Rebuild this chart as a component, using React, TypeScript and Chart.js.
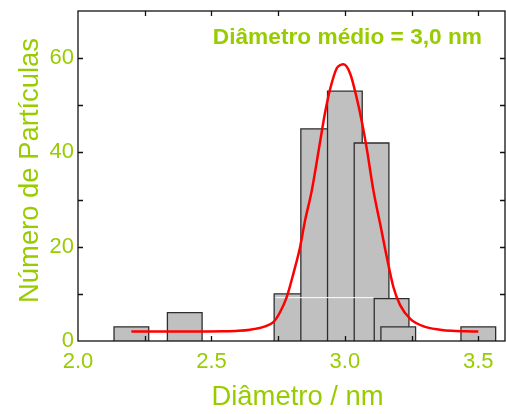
import { useEffect, useRef } from 'react';
import { Chart, registerables } from 'chart.js';

Chart.register(...registerables);

// Histogram bins (diameter in nm) and counts
const binCenters = [2.2, 2.4, 2.8, 2.9, 3.0, 3.1, 3.175, 3.2, 3.5];
const binCounts = [3, 6, 10, 45, 53, 42, 9, 3, 3];
const binWidth = 0.13;

// Fitted curve
const fitX = [2.2, 2.4, 2.55, 2.6, 2.645, 2.695, 2.732, 2.757, 2.782, 2.807, 2.832, 2.851, 2.876, 2.907, 2.926, 2.945, 2.97, 2.985, 2.995, 3.02, 3.045, 3.064, 3.082, 3.107, 3.132, 3.157, 3.182, 3.207, 3.245, 3.295, 3.357, 3.4, 3.45, 3.5];
const fitY = [2.0, 2.0, 2.05, 2.15, 2.4, 3.0, 4.0, 6.1, 9.3, 14.3, 19.9, 25.6, 31.9, 42.2, 48.5, 53.5, 57.9, 58.6, 58.7, 56.7, 51.4, 46.4, 40.8, 31.9, 24.9, 17.8, 11.4, 7.6, 4.7, 3.1, 2.4, 2.15, 2.05, 2.0];

// Thin white artefact line across the central bars
const whiteLineX = [2.74, 3.107];
const whiteLineY = [9.2, 9.2];

const xTickValues = [2.0, 2.25, 2.5, 2.75, 3.0, 3.25, 3.5];
const xLabelValues = [2.0, 2.5, 3.0, 3.5];
const yTickValues = [0, 10, 20, 30, 40, 50, 60, 70];
const yLabelValues = [0, 20, 40, 60];

const annotationText = 'Diâmetro médio = 3,0 nm';
const xTitle = 'Diâmetro / nm';
const yTitle = 'Número de Partículas';

const GREEN = '#99cc00';
const FONT = '"Liberation Sans", Arial, sans-serif';

const framePlugin = {
  id: 'frameTicks',
  afterDatasetsDraw(chart: any) {
    const { ctx, chartArea: a, scales } = chart;
    const x = scales.x;
    const y = scales.y;
    ctx.save();
    ctx.strokeStyle = '#111';
    ctx.lineWidth = 1.3;
    ctx.strokeRect(a.left, a.top, a.right - a.left, a.bottom - a.top);
    const L = 5;
    ctx.beginPath();
    x.ticks.forEach((t: any) => {
      const v = t.value;
      if (v <= x.min + 1e-9 || v >= x.max - 1e-9) return;
      const px = Math.round(x.getPixelForValue(v)) + 0.5;
      ctx.moveTo(px, a.bottom);
      ctx.lineTo(px, a.bottom - L);
      ctx.moveTo(px, a.top);
      ctx.lineTo(px, a.top + L);
    });
    y.ticks.forEach((t: any) => {
      const v = t.value;
      if (v <= y.min + 1e-9 || v >= y.max - 1e-9) return;
      const py = Math.round(y.getPixelForValue(v)) + 0.5;
      ctx.moveTo(a.left, py);
      ctx.lineTo(a.left + L, py);
      ctx.moveTo(a.right, py);
      ctx.lineTo(a.right - L, py);
    });
    ctx.stroke();
    ctx.restore();
  },
  afterDraw(chart: any) {
    const { ctx, chartArea: a } = chart;
    ctx.save();
    // annotation inside the plot
    ctx.font = `bold 22.7px ${FONT}`;
    ctx.fillStyle = GREEN;
    ctx.textAlign = 'right';
    ctx.textBaseline = 'alphabetic';
    ctx.fillText(annotationText, a.right - 23, a.top + 33.3);

    // axis titles
    ctx.font = `27.4px ${FONT}`;
    ctx.textAlign = 'center';
    ctx.fillText(xTitle, (a.left + a.right) / 2 + 6, chart.height - 9);

    ctx.translate(37.5, (a.top + a.bottom) / 2 - 5.5);
    ctx.rotate(-Math.PI / 2);
    ctx.fillText(yTitle, 0, 0);
    ctx.restore();
  },
};

const zeroPad = (s: any) => {
  s.paddingTop = 0;
  s.paddingBottom = 0;
  s.paddingLeft = 0;
  s.paddingRight = 0;
};

export default function App() {
  const ref = useRef<HTMLCanvasElement | null>(null);

  useEffect(() => {
    if (!ref.current) return;
    const barSets = binCenters.map((c, i) => {
      const h = binCounts[i];
      const x0 = c - binWidth / 2;
      const x1 = c + binWidth / 2;
      return {
        type: 'line' as const,
        data: [
          { x: x0, y: 0 },
          { x: x0, y: h },
          { x: x1, y: h },
          { x: x1, y: 0 },
        ],
        borderColor: '#2e2e2e',
        borderWidth: 1.3,
        backgroundColor: '#c0c0c0',
        fill: 'origin',
        pointRadius: 0,
        tension: 0,
        order: 100 - i,
      };
    });

    const chart = new Chart(ref.current, {
      type: 'line',
      data: {
        datasets: [
          ...barSets,
          {
            type: 'line',
            data: whiteLineX.map((x, i) => ({ x, y: whiteLineY[i] })),
            borderColor: '#ffffff',
            borderWidth: 1,
            pointRadius: 0,
            fill: false,
            order: 1,
          },
          {
            type: 'line',
            data: fitX.map((x, i) => ({ x, y: fitY[i] })),
            borderColor: '#ff0000',
            borderWidth: 2.5,
            pointRadius: 0,
            fill: false,
            cubicInterpolationMode: 'monotone',
            order: 0,
          },
        ] as any,
      },
      options: {
        animation: false,
        responsive: false,
        events: [],
        layout: { padding: { top: 11, right: 1, left: 0, bottom: 0 } },
        plugins: {
          legend: { display: false },
          tooltip: { enabled: false },
        },
        scales: {
          x: {
            type: 'linear',
            min: 2.0,
            max: 3.6,
            afterBuildTicks: (s: any) => {
              s.ticks = xTickValues.map((value) => ({ value }));
            },
            afterFit: (s: any) => {
              s.height = 73;
              zeroPad(s);
            },
            grid: { display: false, drawTicks: false },
            border: { display: false },
            ticks: {
              autoSkip: false,
              maxRotation: 0,
              padding: 8,
              color: GREEN,
              font: { family: FONT, size: 22 },
              callback: (v: any) => {
                const n = Number(v);
                return xLabelValues.some((l) => Math.abs(l - n) < 1e-6) ? n.toFixed(1) : '';
              },
            },
            title: { display: false, text: xTitle },
          },
          y: {
            type: 'linear',
            min: 0,
            max: 70,
            afterBuildTicks: (s: any) => {
              s.ticks = yTickValues.map((value) => ({ value }));
            },
            afterFit: (s: any) => {
              s.width = 78;
              zeroPad(s);
            },
            grid: { display: false, drawTicks: false },
            border: { display: false },
            ticks: {
              autoSkip: false,
              padding: 4,
              color: GREEN,
              font: { family: FONT, size: 22 },
              callback: (v: any) => {
                const n = Number(v);
                return yLabelValues.some((l) => Math.abs(l - n) < 1e-6) ? String(n) : '';
              },
            },
            title: { display: false, text: yTitle },
          },
        },
      },
      plugins: [framePlugin],
    });
    return () => chart.destroy();
  }, []);

  return (
    <div style={{ position: 'absolute', left: 0, top: 0, width: 506, height: 414, background: '#fff' }}>
      <canvas ref={ref} width={506} height={414} style={{ display: 'block' }} />
    </div>
  );
}
